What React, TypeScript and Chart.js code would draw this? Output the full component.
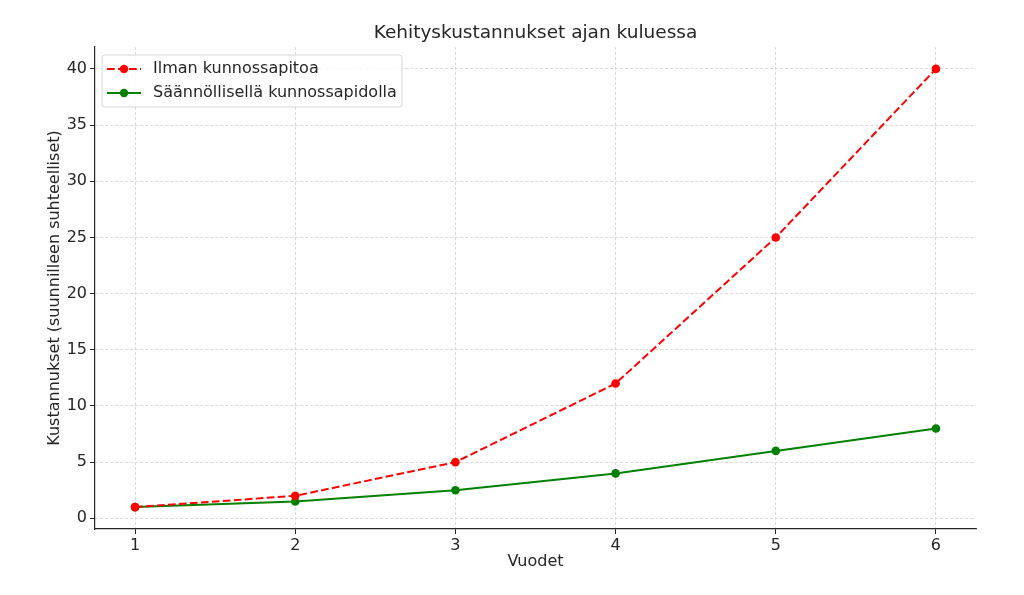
import React, { useEffect, useRef } from "react";
import { Chart, registerables } from "chart.js";

Chart.register(...registerables);

const years = [1, 2, 3, 4, 5, 6];
const noMaintenance = [1, 2, 5, 12, 25, 40];
const regularMaintenance = [1, 1.5, 2.5, 4, 6, 8];
const xTicks = [1, 2, 3, 4, 5, 6];
const yTicks = [0, 5, 10, 15, 20, 25, 30, 35, 40];

const titleText = "Kehityskustannukset ajan kuluessa";
const xLabel = "Vuodet";
const yLabel = "Kustannukset (suunnilleen suhteelliset)";
const seriesNames = ["Ilman kunnossapitoa", "Säännöllisellä kunnossapidolla"];

const FONT = "'DejaVu Sans', sans-serif";
const RED = "#ff0000";
const GREEN = "#008000";
const TXT = "#262626";
const FS = 16;

const titleAndLegendPlugin = {
  id: "innerLegend",
  afterDraw(chart: any) {
    const { ctx, chartArea } = chart;
    ctx.save();
    ctx.fillStyle = TXT;
    ctx.font = `18.5px ${FONT}`;
    ctx.textAlign = "center";
    ctx.textBaseline = "middle";
    ctx.fillText(titleText, (chartArea.left + chartArea.right) / 2, 33);

    const x0 = chartArea.left + 7;
    const y0 = chartArea.top + 8;
    const w = 300;
    const h = 52;
    ctx.fillStyle = "rgba(255,255,255,0.8)";
    ctx.strokeStyle = "#d6d6d6";
    ctx.lineWidth = 1;
    ctx.beginPath();
    const r = 3;
    ctx.moveTo(x0 + r, y0);
    ctx.lineTo(x0 + w - r, y0);
    ctx.quadraticCurveTo(x0 + w, y0, x0 + w, y0 + r);
    ctx.lineTo(x0 + w, y0 + h - r);
    ctx.quadraticCurveTo(x0 + w, y0 + h, x0 + w - r, y0 + h);
    ctx.lineTo(x0 + r, y0 + h);
    ctx.quadraticCurveTo(x0, y0 + h, x0, y0 + h - r);
    ctx.lineTo(x0, y0 + r);
    ctx.quadraticCurveTo(x0, y0, x0 + r, y0);
    ctx.closePath();
    ctx.fill();
    ctx.stroke();
    const items = [
      { label: seriesNames[0], color: RED, dash: [7.7, 3.3] },
      { label: seriesNames[1], color: GREEN, dash: [] as number[] },
    ];
    items.forEach((it, i) => {
      const cy = y0 + 14 + i * 24;
      ctx.strokeStyle = it.color;
      ctx.lineWidth = 2;
      ctx.setLineDash(it.dash);
      ctx.beginPath();
      ctx.moveTo(x0 + 5, cy);
      ctx.lineTo(x0 + 39, cy);
      ctx.stroke();
      ctx.setLineDash([]);
      ctx.fillStyle = it.color;
      ctx.beginPath();
      ctx.arc(x0 + 22, cy, 4.2, 0, Math.PI * 2);
      ctx.fill();
      ctx.fillStyle = TXT;
      ctx.font = `${FS}px ${FONT}`;
      ctx.textBaseline = "middle";
      ctx.textAlign = "left";
      ctx.fillText(it.label, x0 + 51, cy);
    });
    ctx.restore();
  },
};

export default function App() {
  const ref = useRef<HTMLCanvasElement | null>(null);
  useEffect(() => {
    if (!ref.current) return;
    const gridOpts = {
      color: "#cfcfcf",
      lineWidth: 0.8,
      tickLength: 5,
      tickColor: TXT,
      tickWidth: 1,
      tickBorderDash: [],
    };
    const chart = new Chart(ref.current, {
      type: "line",
      data: {
        datasets: [
          {
            label: seriesNames[0],
            data: years.map((x, i) => ({ x, y: noMaintenance[i] })),
            borderColor: RED,
            backgroundColor: RED,
            borderWidth: 2,
            borderDash: [7.7, 3.3],
            pointRadius: 4.3,
            pointBorderWidth: 0,
            pointBackgroundColor: RED,
            tension: 0,
          },
          {
            label: seriesNames[1],
            data: years.map((x, i) => ({ x, y: regularMaintenance[i] })),
            borderColor: GREEN,
            backgroundColor: GREEN,
            borderWidth: 2,
            pointRadius: 4.3,
            pointBorderWidth: 0,
            pointBackgroundColor: GREEN,
            tension: 0,
          },
        ],
      },
      options: {
        animation: false,
        responsive: false,
        maintainAspectRatio: false,
        layout: { padding: { left: 0, right: 48, top: 47, bottom: 0 } },
        plugins: {
          legend: { display: false },
          tooltip: { enabled: false },
          title: { display: false },
        },
        scales: {
          x: {
            type: "linear",
            min: 0.75,
            max: 6.25,
            afterBuildTicks: (s: any) => {
              s.ticks = xTicks.map((v) => ({ value: v }));
            },
            afterFit: (s: any) => {
              s.height = 66;
            },
            ticks: {
              color: TXT,
              font: { family: FONT, size: FS },
              padding: 2,
              maxRotation: 0,
              autoSkip: false,
              callback: (v: any) => String(v),
            },
            grid: gridOpts,
            border: { display: true, color: TXT, width: 1.2, dash: [3, 2] },
            title: {
              display: true,
              text: xLabel,
              color: TXT,
              font: { family: FONT, size: FS },
              padding: { top: 0, bottom: 23.4 },
            },
          },
          y: {
            type: "linear",
            min: -0.95,
            max: 41.95,
            afterBuildTicks: (s: any) => {
              s.ticks = yTicks.map((v) => ({ value: v }));
            },
            afterFit: (s: any) => {
              s.width = 95;
            },
            ticks: {
              color: TXT,
              font: { family: FONT, size: FS },
              padding: 3,
              autoSkip: false,
              callback: (v: any) => String(v),
            },
            grid: gridOpts,
            border: { display: true, color: TXT, width: 1.2, dash: [3, 2] },
            title: {
              display: true,
              text: yLabel,
              color: TXT,
              font: { family: FONT, size: FS },
              padding: { top: 45.4, bottom: 0 },
            },
          },
        },
      },
      plugins: [titleAndLegendPlugin],
    } as any);
    return () => chart.destroy();
  }, []);
  return (
    <div style={{ position: "fixed", left: 0, top: 0, width: 1024, height: 595, background: "#fff" }}>
      <canvas ref={ref} width={1024} height={595} style={{ width: 1024, height: 595, display: "block" }} />
    </div>
  );
}
